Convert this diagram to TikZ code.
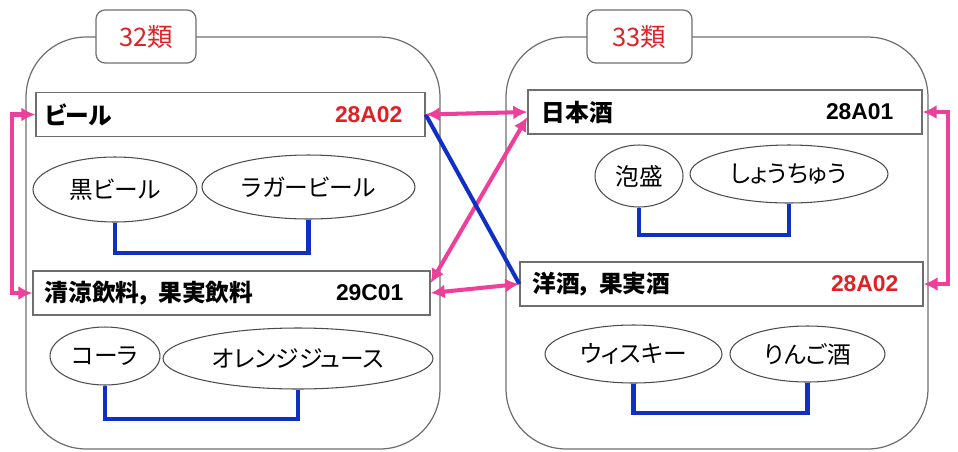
\documentclass[tikz,border=0pt]{standalone}
\usepackage{fontspec}
\setmainfont{Noto Sans CJK JP}[RawFeature=+palt]
\newfontfamily\codefont{Liberation Sans}
\usetikzlibrary{shapes.geometric,arrows.meta,positioning}
\definecolor{linkpink}{RGB}{238,64,154}
\definecolor{linkblue}{RGB}{14,48,196}
\definecolor{codered}{RGB}{226,32,36}
\definecolor{edgegray}{RGB}{110,110,110}
\begin{document}
\begin{tikzpicture}[x=0.02cm,y=-0.02cm,
  every node/.style={font=\fontsize{13.5}{15}\selectfont, inner sep=0pt},
  group/.style={draw=edgegray, line width=0.7pt, rounded corners=1.2cm, minimum height=8.24cm},
  grouptag/.style={draw=edgegray, line width=0.7pt, fill=white, rounded corners=0.18cm, minimum height=1.06cm, text=codered, font=\fontsize{14.5}{16}\selectfont},
  item/.style={draw=edgegray, line width=0.8pt, fill=white, minimum height=0.88cm},
  itemname/.style={anchor=west, font=\bfseries\fontsize{13.5}{15}\selectfont},
  code/.style={anchor=east, font=\codefont\bfseries\fontsize{13}{15}\selectfont},
  kind/.style={ellipse, draw=black!70, line width=0.6pt},
  pair/.style={linkpink, line width=2.3pt, <->, >={Latex[length=8pt,width=8pt]}},
  tie/.style={linkblue, line width=2.3pt}]
\useasboundingbox (0,0) rectangle (958,451);
% groups
\node[group, minimum width=8.28cm] (g32) at (233,243) {};
\node[group, minimum width=8.44cm] (g33) at (717,243) {};
\node[grouptag, minimum width=2.0cm] (t32) at (146,36.5) {32類};
\node[grouptag, minimum width=2.1cm] (t33) at (639.5,36.5) {33類};
% classes
\node[item, minimum width=7.78cm] (r1) at (230.5,114.5) {};
\node[item, minimum width=7.94cm] (r2) at (231.5,293) {};
\node[item, minimum width=7.88cm] (r3) at (725,112) {};
\node[item, minimum width=8.06cm] (r4) at (721.5,284) {};
\node[itemname] (n1) at ([xshift=0.18cm]r1.west) {ビール};
\node[itemname] (n2) at ([xshift=0.24cm]r2.west) {清涼飲料，\hspace{0.3em}果実飲料};
\node[itemname] (n3) at ([xshift=0.28cm]r3.west) {日本酒};
\node[itemname] (n4) at ([xshift=0.26cm]r4.west) {洋酒，\hspace{0.3em}果実酒};
\node[code, text=codered] (c1) at ([xshift=-0.46cm]r1.east) {28A02};
\node[code] (c2) at ([xshift=-0.54cm]r2.east) {29C01};
\node[code] (c3) at ([xshift=-0.58cm]r3.east) {28A01};
\node[code, text=codered] (c4) at ([xshift=-0.5cm]r4.east) {28A02};
% goods
\node[kind, minimum width=3.28cm, minimum height=1.30cm] (e1) at (115,189.5) {黒ビール};
\node[kind, minimum width=4.26cm, minimum height=1.28cm] (e2) at (308.5,187) {ラガービール};
\node[kind, minimum width=2.20cm, minimum height=1.16cm] (e3) at (105,356) {コーラ};
\node[kind, minimum width=5.40cm, minimum height=1.22cm] (e4) at (298,358.5) {オレンジジュース};
\node[kind, minimum width=1.76cm, minimum height=1.24cm] (e5) at (639,176) {泡盛};
\node[kind, minimum width=3.96cm, minimum height=1.16cm] (e6) at (789,174) {しょうちゅう};
\node[kind, minimum width=3.54cm, minimum height=1.16cm] (e7) at (633.5,354) {ウィスキー};
\node[kind, minimum width=3.10cm, minimum height=1.12cm] (e8) at (807.5,354) {りんご酒};
\draw[tie] (e1.south) -- ++(0,30) -| (e2.south);
\draw[tie] (e3.south) -- ++(0,33) -| (e4.south);
\draw[tie] (e5.south) -- ++(0,27) -| (e6.south);
\draw[tie] (e7.south) -- ++(0,29) -| (e8.south);
% links
\draw[pair] (r1.west) -- ++(-23,0) |- (r2.west);
\draw[pair] (r3.east) -- ++(25,0) |- (r4.east);
\draw[pair] ([yshift=0.2cm]r2.east) -- ([yshift=-0.1cm]r3.west);
\draw[tie] (r1.east) -- (r4.west);
\draw[pair] (r1.east) -- (r3.west);
\draw[pair] (r2.east) -- (r4.west);
\end{tikzpicture}
\end{document}
